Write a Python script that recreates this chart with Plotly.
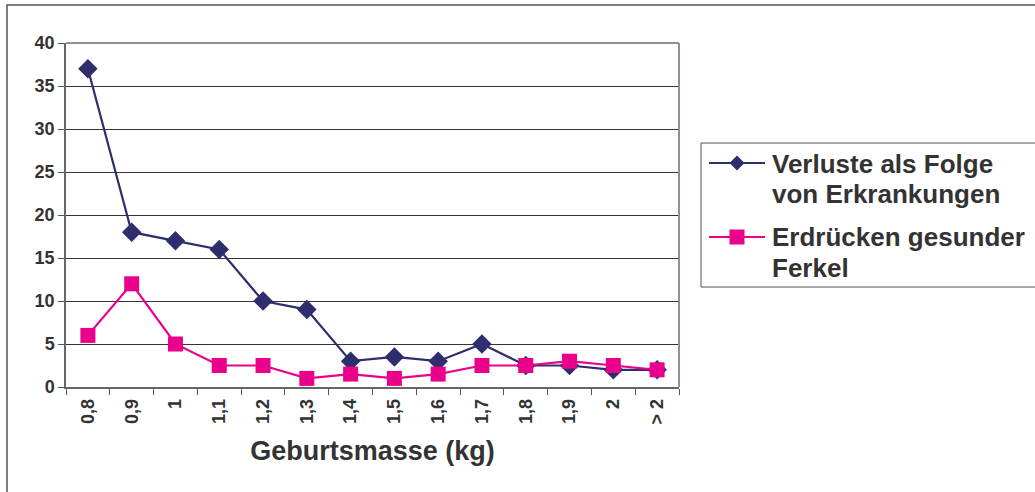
import plotly.graph_objects as go

# Geburtsmasse classes (kg) and losses per class
categories = ["0,8", "0,9", "1", "1,1", "1,2", "1,3", "1,4", "1,5", "1,6", "1,7", "1,8", "1,9", "2", "> 2"]
verluste_erkrankungen = [37, 18, 17, 16, 10, 9, 3, 3.5, 3, 5, 2.5, 2.5, 2, 2]
erdruecken_gesund = [6, 12, 5, 2.5, 2.5, 1, 1.5, 1, 1.5, 2.5, 2.5, 3, 2.5, 2]
y_ticks = [0, 5, 10, 15, 20, 25, 30, 35, 40]
series_labels = [["Verluste als Folge", "von Erkrankungen"],
                 ["Erdrücken gesunder", "Ferkel"]]

NAVY = "#2e2e6e"
PINK = "#ea008a"
TEXT = "#333333"
FONT = "Liberation Sans"

fig = go.Figure()
fig.add_trace(go.Scatter(
    x=categories, y=verluste_erkrankungen, mode="lines+markers",
    name=" ".join(series_labels[0]),
    line=dict(color=NAVY, width=2.2),
    marker=dict(symbol="diamond", size=15, color=NAVY),
))
fig.add_trace(go.Scatter(
    x=categories, y=erdruecken_gesund, mode="lines+markers",
    name=" ".join(series_labels[1]),
    line=dict(color=PINK, width=2.2),
    marker=dict(symbol="square", size=15, color=PINK),
))

W, H = 1035, 492
L, R, T, B = 66, 356, 43, 105
pw, ph = W - L - R, H - T - B


def px_x(x):
    return (x - L) / pw


def px_y(y):
    return 1 - (y - T) / ph


def paper_line(x0, y0, x1, y1, color, width):
    return dict(type="line", xref="paper", yref="paper",
                x0=px_x(x0), x1=px_x(x1), y0=px_y(y0), y1=px_y(y1),
                line=dict(color=color, width=width))


shapes = [
    # outer chart frame
    dict(type="rect", xref="paper", yref="paper",
         x0=px_x(7), x1=px_x(1040), y0=px_y(497), y1=px_y(5),
         line=dict(color="#555555", width=1.5), layer="below"),
    # plot area top and right borders
    dict(type="line", xref="paper", yref="paper", x0=0, x1=1, y0=1, y1=1,
         line=dict(color="#9a8e8a", width=2)),
    dict(type="line", xref="paper", yref="paper", x0=1, x1=1, y0=0, y1=1,
         line=dict(color="#9a8e8a", width=2)),
    # legend box
    dict(type="rect", xref="paper", yref="paper",
         x0=px_x(701), x1=px_x(1045), y0=px_y(287), y1=px_y(143),
         line=dict(color="#555555", width=1), fillcolor="white"),
    # legend keys
    paper_line(709, 163, 765, 163, NAVY, 2),
    dict(type="path", xref="paper", yref="paper",
         path="M {} {} L {} {} L {} {} L {} {} Z".format(
             px_x(737), px_y(155.5), px_x(744.5), px_y(163),
             px_x(737), px_y(170.5), px_x(729.5), px_y(163)),
         fillcolor=NAVY, line=dict(color=NAVY, width=0)),
    paper_line(709, 237, 765, 237, PINK, 2),
    dict(type="rect", xref="paper", yref="paper",
         x0=px_x(729.5), x1=px_x(744.5), y0=px_y(244.5), y1=px_y(229.5),
         fillcolor=PINK, line=dict(color=PINK, width=0)),
]

# legend text lines (centre heights in pixels)
annotations = []
for lines, centres in zip(series_labels, [(164, 194), (237, 268)]):
    for text, cy in zip(lines, centres):
        annotations.append(dict(
            text=text, xref="paper", yref="paper", x=px_x(770), y=px_y(cy),
            xanchor="left", yanchor="middle", showarrow=False,
            font=dict(family=FONT, size=26, color=TEXT, weight="bold"),
        ))

fig.update_layout(
    width=W, height=H,
    margin=dict(l=L, r=R, t=T, b=B, autoexpand=False),
    paper_bgcolor="white", plot_bgcolor="white",
    font=dict(family=FONT, color=TEXT),
    showlegend=False,
    shapes=shapes,
    annotations=annotations,
    xaxis=dict(
        type="category", range=[-0.5, len(categories) - 0.5],
        tickson="boundaries", ticks="outside", ticklen=6,
        tickcolor="#555555", tickangle=-90, ticklabelstandoff=3,
        tickfont=dict(family=FONT, size=18, color=TEXT, weight="bold"),
        showline=True, linecolor="#666666", linewidth=1.5, showgrid=False,
        title=dict(text="Geburtsmasse (kg)", standoff=18,
                   font=dict(family=FONT, size=27, color=TEXT, weight="bold")),
    ),
    yaxis=dict(
        range=[0, 40], tickvals=y_ticks, ticks="outside", ticklen=6,
        tickcolor="#555555",
        tickfont=dict(family=FONT, size=18, color=TEXT, weight="bold"),
        showline=True, linecolor="#666666", linewidth=1.5,
        showgrid=True, gridcolor="#333333", gridwidth=1, zeroline=False,
    ),
)

fig.write_html("out.html")
